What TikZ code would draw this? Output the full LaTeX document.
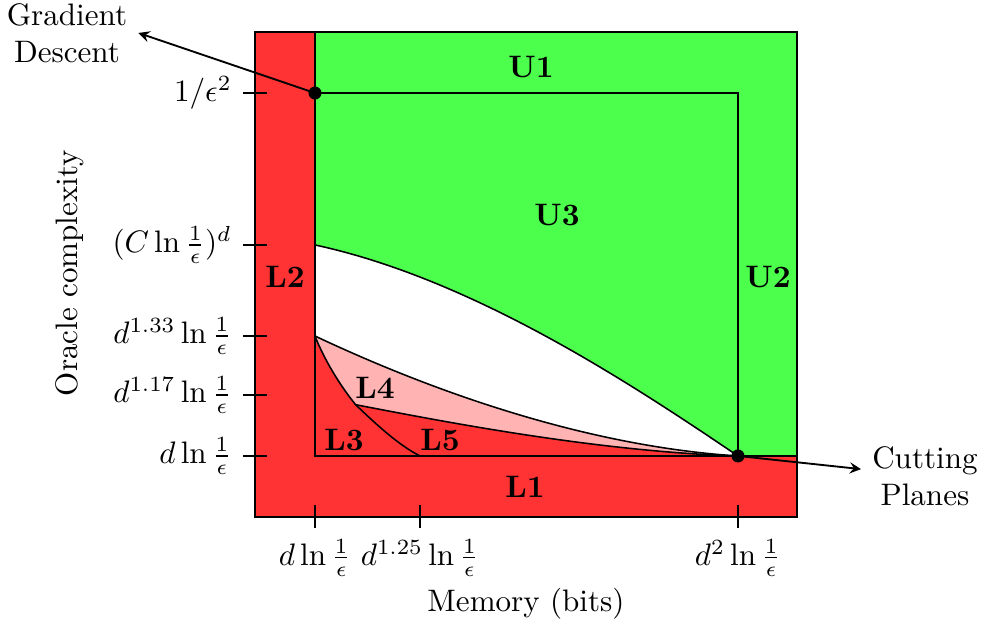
\documentclass[tikz,border=0pt]{standalone}
\usetikzlibrary{arrows}
\definecolor{figRed}{HTML}{FF3333}
\definecolor{figGreen}{HTML}{4DFF4D}
\definecolor{figPink}{HTML}{FFB3B3}
\begin{document}
\begin{tikzpicture}[>=stealth,semithick]
\useasboundingbox (-3.563,-1.946) rectangle (7.568,5.158);
% Punts clau
\coordinate (o) at (0,0);
\coordinate (gd) at (0,4.106);
\coordinate (cc) at (0,2.387);
\coordinate (aa) at (0,1.357);
\coordinate (jj) at (0.46,0.58);
\coordinate (ff) at (1.188,0);
\coordinate (cp) at (4.785,0);
% Regions
\fill[figRed] (-0.679,-0.690) rectangle (5.452,4.796);
\filldraw[fill=figGreen] (o) rectangle (5.452,4.796);
\fill[white] (cc) .. controls (1.8,2.0) and (3.6,0.8) .. (cp) -- (o) -- cycle;
\fill[figPink] (aa) .. controls (1.5,0.65) and (3.2,0.1) .. (cp) -- (o) -- cycle;
\fill[figRed] (aa) .. controls (0.1,1.1) and (0.28,0.8) .. (jj)
  .. controls (1.5,0.38) and (3.2,0.05) .. (cp) -- (o) -- cycle;
% Fronteres
\draw[line width=0.5pt] (cc) .. controls (1.8,2.0) and (3.6,0.8) .. (cp);
\draw[line width=0.5pt] (aa) .. controls (1.5,0.65) and (3.2,0.1) .. (cp);
\draw[line width=0.5pt] (aa) .. controls (0.1,1.1) and (0.28,0.8) .. (jj)
  .. controls (0.7,0.35) and (0.95,0.12) .. (ff);
\draw[line width=0.5pt] (jj) .. controls (1.5,0.38) and (3.2,0.05) .. (cp);
\draw (o) rectangle (4.785,4.106);
\draw (-0.679,-0.690) rectangle (5.452,4.796);
% Etiquetes de regions
\node[font=\bfseries] (u1) at (2.443,4.40) {U1};
\node[font=\bfseries] (u2) at (5.124,2.025) {U2};
\node[font=\bfseries] (u3) at (2.738,2.726) {U3};
\node[font=\bfseries] (l1) at (2.376,-0.351) {L1};
\node[font=\bfseries] (l2) at (-0.339,2.025) {L2};
\node[font=\bfseries] (l3) at (0.328,0.181) {L3};
\node[font=\bfseries] (l4) at (0.679,0.769) {L4};
\node[font=\bfseries] (l5) at (1.414,0.181) {L5};
% Eix vertical
\draw (-0.814,4.106) -- (-0.543,4.106) node[pos=0,left] (y1) {$1/\epsilon^2$};
\draw (-0.814,2.387) -- (-0.543,2.387) node[pos=0,left] (y2) {$(C\ln\frac{1}{\epsilon})^d$};
\draw (-0.814,1.357) -- (-0.543,1.357) node[pos=0,left] (y3) {$d^{1.33}\ln\frac{1}{\epsilon}$};
\draw (-0.814,0.690) -- (-0.543,0.690) node[pos=0,left] (y4) {$d^{1.17}\ln\frac{1}{\epsilon}$};
\draw (-0.814,0) -- (-0.543,0) node[pos=0,left] (y5) {$d\ln\frac{1}{\epsilon}$};
\node[rotate=90] (ylab) at (-2.771,2.07) {Oracle complexity};
% Eix horitzontal
\draw (0,-0.554) -- (0,-0.814) node[below] (x1) {$d\ln\frac{1}{\epsilon}$};
\draw (1.188,-0.554) -- (1.188,-0.814) node[below] (x2) {$d^{1.25}\ln\frac{1}{\epsilon}$};
\draw (4.785,-0.554) -- (4.785,-0.814) node[below] (x3) {$d^2\ln\frac{1}{\epsilon}$};
\node[inner sep=1pt] (xlab) at (2.387,-1.67) {Memory (bits)};
% Algorismes
\node[align=center] (gdtext) at (-2.805,4.785) {Gradient\\Descent};
\node[align=center] (cptext) at (6.90,-0.226) {Cutting\\Planes};
\draw[->] (gd) -- (gdtext.east);
\draw[->] (cp) -- (cptext);
\fill (gd) circle (2.1pt);
\fill (cp) circle (2.1pt);
\end{tikzpicture}
\end{document}
